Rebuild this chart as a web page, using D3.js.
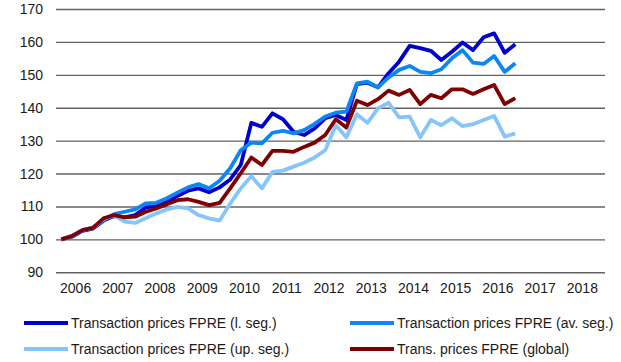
<!DOCTYPE html>
<html>
<head>
<meta charset="utf-8">
<script src="https://cdn.jsdelivr.net/npm/d3@7"></script>
<style>
  html, body { margin: 0; padding: 0; background: #fff; }
  svg { display: block; font-family: "Liberation Sans", Arial, sans-serif; }
</style>
</head>
<body>
<svg id="chart" width="621" height="362"></svg>
<script>
// Quarterly index values, 2006 Q1 = 100
const years = [2006, 2007, 2008, 2009, 2010, 2011, 2012, 2013, 2014, 2015, 2016, 2017, 2018];
const yTicks = [90, 100, 110, 120, 130, 140, 150, 160, 170];

const lowerSeg = [100, 100.8, 102.6, 103.3, 105.7, 107.1, 106.7, 107.4, 109.7, 110.1, 111.4, 113.2,
  114.8, 115.5, 114.3, 115.8, 118.2, 122.6, 135.4, 134.2, 138.3, 136.5, 132.7, 131.7,
  133.7, 136.8, 137.8, 136.3, 147.2, 147.6, 146.2, 150.5, 154.0, 158.8, 158.1, 157.3,
  154.5, 157.0, 159.8, 157.5, 161.4, 162.6, 156.7, 159.3];

const averageSeg = [100, 101, 102.8, 103.6, 105.9, 107.7, 108.4, 109.1, 110.9, 111.1, 112.5, 114.2,
  115.8, 116.8, 115.5, 117.8, 121.6, 127.1, 129.4, 129.2, 132.4, 133.0, 132.2, 133.2,
  135.1, 137.3, 138.5, 138.8, 147.4, 147.9, 146.2, 149.2, 151.5, 152.7, 150.9, 150.5,
  151.7, 155.0, 157.5, 153.7, 153.3, 155.7, 150.9, 153.5];

const upperSeg = [100, 101, 102.8, 103.5, 106.2, 107.3, 105.4, 105.0, 106.4, 107.9, 109.1, 109.9,
  109.4, 107.4, 106.4, 105.7, 110.9, 115.5, 119.2, 115.5, 120.5, 120.9, 122.1, 123.3,
  124.9, 127.1, 134.7, 131.0, 138.0, 135.4, 139.8, 141.5, 137.1, 137.3, 131.0, 136.3,
  134.7, 136.8, 134.4, 135.0, 136.3, 137.5, 131.2, 132.2];

const globalIdx = [100, 101, 102.8, 103.5, 106.4, 107.4, 106.7, 106.9, 108.4, 109.4, 110.7, 111.9,
  112.2, 111.4, 110.4, 111.1, 115.5, 120.1, 124.9, 122.6, 126.9, 126.9, 126.6, 128.1,
  129.4, 131.7, 136.5, 134.0, 142.1, 140.8, 142.6, 145.2, 143.9, 145.4, 141.1, 143.9,
  142.9, 145.6, 145.6, 144.2, 145.6, 146.9, 141.1, 142.9];

const seriesNames = [
  "Transaction prices FPRE (l. seg.)",
  "Transaction prices FPRE (av. seg.)",
  "Transaction prices FPRE (up. seg.)",
  "Trans. prices FPRE (global)"
];
const seriesColors = ["#0000cc", "#0a87f5", "#86c5fb", "#7f0000"];
const seriesValues = [lowerSeg, averageSeg, upperSeg, globalIdx];

// Quarter slots spanning the whole axis (data fills the first 44)
const quarters = [];
years.forEach(yr => { for (let q = 1; q <= 4; q++) quarters.push(yr + "Q" + q); });

const svg = d3.select("#chart");
const plotLeft = 56, plotRight = 605, plotTop = 9, plotBottom = 272.3;

const x = d3.scaleBand().domain(quarters).range([plotLeft, plotRight]).paddingInner(0).paddingOuter(0);
const xPos = i => x(quarters[i]) + x.bandwidth() / 2;
const y = d3.scaleLinear().domain([90, 170]).range([plotBottom, plotTop]);

// Horizontal gridlines with value labels
const yAxis = d3.axisLeft(y)
  .tickValues(yTicks)
  .tickSize(-(plotRight - plotLeft))
  .tickPadding(13)
  .tickFormat(d3.format("d"));

const gy = svg.append("g")
  .attr("transform", `translate(${plotLeft},0)`)
  .call(yAxis);
gy.select(".domain").remove();
gy.selectAll(".tick line").attr("stroke", "#626262").attr("stroke-width", 1.4);
gy.selectAll(".tick text")
  .attr("fill", "#1a1a1a")
  .style("font-size", "14px");

// Year labels centred on each year's four quarters
svg.append("g")
  .selectAll("text")
  .data(years)
  .join("text")
  .attr("x", d => x(d + "Q1") + x.bandwidth() * 2 - 1.5)
  .attr("y", 293)
  .attr("text-anchor", "middle")
  .attr("fill", "#1a1a1a")
  .style("font-size", "14px")
  .text(d => d);

// Index lines
const line = d3.line()
  .x((d, i) => xPos(i))
  .y(d => y(d));

svg.append("g")
  .selectAll("path")
  .data(seriesValues)
  .join("path")
  .attr("d", d => line(d))
  .attr("fill", "none")
  .attr("stroke", (d, i) => seriesColors[i])
  .attr("stroke-width", 3.8)
  .attr("stroke-linejoin", "round")
  .attr("stroke-linecap", "butt");

// Legend, two columns by two rows
const legendItems = seriesNames.map((name, i) => ({
  name, color: seriesColors[i],
  col: i % 2, row: Math.floor(i / 2)
}));
const colX = [24, 350], rowY = [323, 349], sampleLen = 44;

const lg = svg.append("g")
  .selectAll("g")
  .data(legendItems)
  .join("g")
  .attr("transform", d => `translate(${colX[d.col]},${rowY[d.row]})`);

lg.append("line")
  .attr("x1", 0).attr("x2", sampleLen)
  .attr("y1", 0).attr("y2", 0)
  .attr("stroke", d => d.color)
  .attr("stroke-width", 3.8);

lg.append("text")
  .attr("x", sampleLen + 3)
  .attr("y", 0)
  .attr("dy", "0.35em")
  .attr("fill", "#1a1a1a")
  .style("font-size", "14px")
  .text(d => d.name);
</script>
</body>
</html>
